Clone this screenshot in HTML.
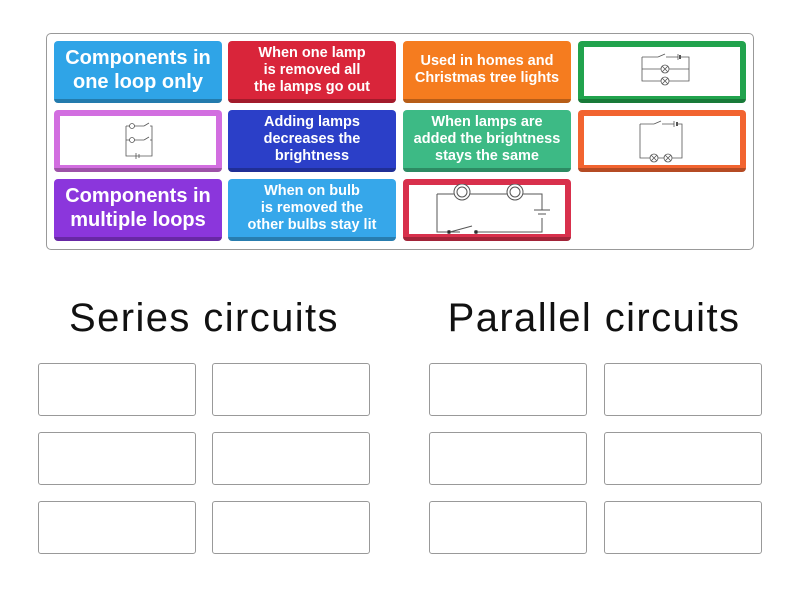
<!DOCTYPE html>
<html><head><style>
body{margin:0;width:800px;height:600px;background:#fff;font-family:"Liberation Sans",sans-serif;position:relative;overflow:hidden}
.c{position:absolute;left:46px;top:33px;width:708px;height:217px;border:1px solid #999;border-radius:5px;box-sizing:border-box}
.t{position:absolute;width:168px;height:62px;border-radius:4px;box-sizing:border-box;color:#fff;font-weight:bold;display:flex;align-items:center;justify-content:center;text-align:center;line-height:17px;font-size:14.5px;border-bottom:4px solid rgba(0,0,0,.25)}
.big{font-size:20px;line-height:24px}
.img{padding:6px 6px 3px}
.img .w{background:#fff;width:100%;height:100%;display:flex;align-items:center;justify-content:center}
h2{position:absolute;margin:0;font-weight:normal;font-size:40px;color:#111;top:296px;text-align:center;width:390px;letter-spacing:1.4px}
.b{position:absolute;width:158px;height:53px;border:1px solid #999;border-radius:3px;box-sizing:border-box}
</style></head><body>
<div class="c"></div>
<div class="t big" style="left:54px;top:41px;background:#2fa4e7">Components in one loop only</div>
<div class="t" style="left:228px;top:41px;background:#d9253a">When one lamp<br>is removed all<br>the lamps go out</div>
<div class="t" style="left:403px;top:41px;background:#f57c1f">Used in homes and<br>Christmas tree lights</div>
<div class="t img" style="left:578px;top:41px;background:#21a34d"><div class="w"><svg width="60" height="46" viewBox="0 0 60 46" fill="none" stroke="#555" stroke-width="0.8"><path d="M10 8H26M34 8H46M48 8H57V32H10V8M10 20H57"/><path d="M26 8L33 5"/><line x1="46" y1="5" x2="46" y2="11"/><line x1="48" y1="6" x2="48" y2="10" stroke-width="2"/><circle cx="33" cy="20" r="4" fill="#fff"/><circle cx="33" cy="32" r="4" fill="#fff"/><path d="M30 17l6 6M36 17l-6 6M30 29l6 6M36 29l-6 6"/></svg></div></div>
<div class="t img" style="left:54px;top:110px;background:#d26ee0"><div class="w"><svg width="40" height="46" viewBox="0 0 40 46" fill="none" stroke="#555" stroke-width="0.8"><path d="M8 8H26M32 8H34V38H8V8M8 22H26M32 22H34"/><path d="M26 8l5-3M26 22l5-3"/><circle cx="14" cy="8" r="2.5" fill="#fff"/><circle cx="14" cy="22" r="2.5" fill="#fff"/><line x1="18" y1="35" x2="18" y2="41"/><line x1="21" y1="36" x2="21" y2="40"/></svg></div></div>
<div class="t" style="left:228px;top:110px;background:#2b3fc8">Adding lamps<br>decreases the<br>brightness</div>
<div class="t" style="left:403px;top:110px;background:#3dba85">When lamps are<br>added the brightness<br>stays the same</div>
<div class="t img" style="left:578px;top:110px;background:#f26430"><div class="w"><svg width="60" height="46" viewBox="0 0 60 46" fill="none" stroke="#555" stroke-width="0.8"><path d="M8 6H22M30 6H42M45 6H50V40H8V6"/><path d="M22 6l7-3"/><line x1="42" y1="3" x2="42" y2="9"/><line x1="45" y1="4" x2="45" y2="8" stroke-width="2"/><circle cx="22" cy="40" r="4" fill="#fff"/><circle cx="36" cy="40" r="4" fill="#fff"/><path d="M19 37l6 6M25 37l-6 6M33 37l6 6M39 37l-6 6"/></svg></div></div>
<div class="t big" style="left:54px;top:179px;background:#8b36dc">Components in multiple loops</div>
<div class="t" style="left:228px;top:179px;background:#36a7ea">When on bulb<br>is removed the<br>other bulbs stay lit</div>
<div class="t img" style="left:403px;top:179px;background:#d8304c"><div class="w"><svg width="150" height="52" viewBox="0 0 150 52" fill="none" stroke="#555" stroke-width="1"><path d="M25 10H130V26M130 34V48H65M48 48H25V10"/><line x1="122" y1="26" x2="138" y2="26"/><line x1="126" y1="30" x2="134" y2="30"/><circle cx="50" cy="8" r="8" fill="#fff"/><circle cx="50" cy="8" r="5"/><circle cx="103" cy="8" r="8" fill="#fff"/><circle cx="103" cy="8" r="5"/><path d="M38 48L60 42"/><circle cx="37" cy="48" r="1.5" fill="#222"/><circle cx="64" cy="48" r="1.5" fill="#222"/></svg></div></div>
<h2 style="left:9px">Series circuits</h2>
<h2 style="left:399px">Parallel circuits</h2>
<div class="b" style="left:38px;top:363px"></div><div class="b" style="left:212px;top:363px"></div>
<div class="b" style="left:38px;top:432px"></div><div class="b" style="left:212px;top:432px"></div>
<div class="b" style="left:38px;top:501px"></div><div class="b" style="left:212px;top:501px"></div>
<div class="b" style="left:429px;top:363px"></div><div class="b" style="left:604px;top:363px"></div>
<div class="b" style="left:429px;top:432px"></div><div class="b" style="left:604px;top:432px"></div>
<div class="b" style="left:429px;top:501px"></div><div class="b" style="left:604px;top:501px"></div>
</body></html>
